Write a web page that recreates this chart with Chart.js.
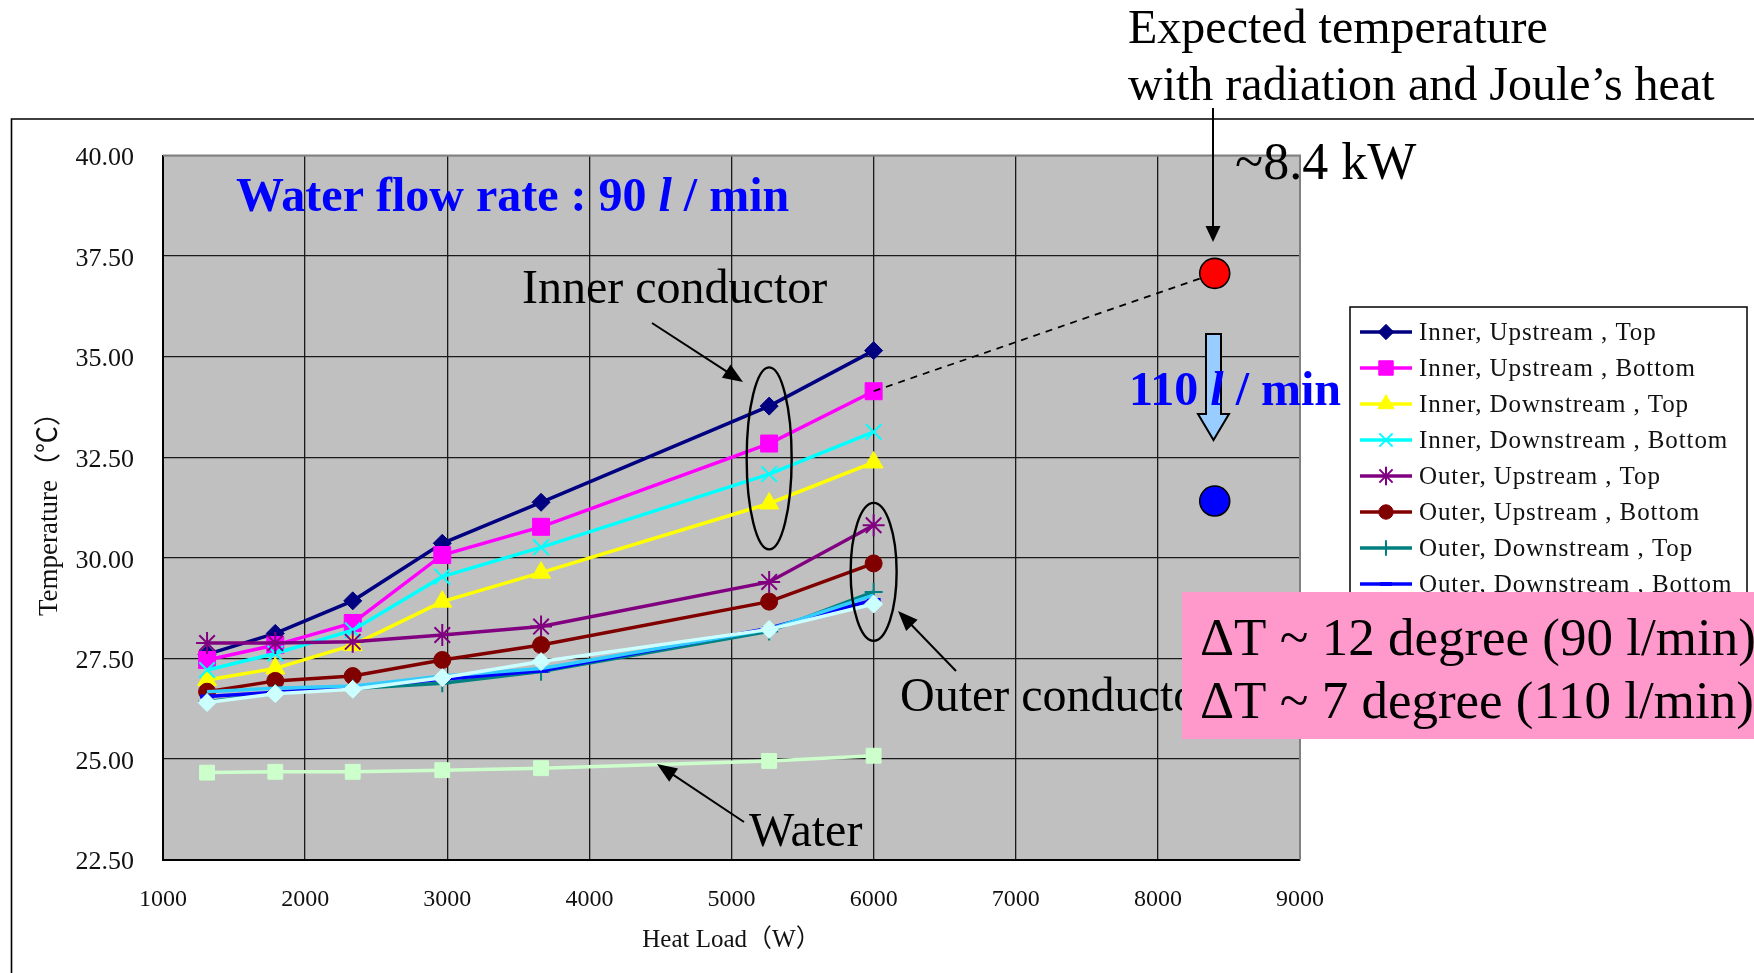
<!DOCTYPE html>
<html lang="en">
<head>
<meta charset="UTF-8">
<title>Temperature vs Heat Load</title>
<script src="https://cdn.jsdelivr.net/npm/chart.js@4.4.1/dist/chart.umd.min.js"></script>
<style>
  body { margin: 0; background: #fff; }
  canvas { display: block; }
</style>
</head>
<body>
<canvas id="myChart" width="1754" height="973"></canvas>
<script>
// heat load (W) for each measurement step
const heatLoad = [1310, 1790, 2335, 2965, 3660, 5265, 6000];

// measured temperatures (deg C) at 90 l/min
const innerUpTop      = [27.60, 28.12, 28.93, 30.36, 31.38, 33.77, 35.15];
const innerUpBottom   = [27.46, 27.83, 28.38, 30.07, 30.77, 32.84, 34.14];
const innerDownTop    = [26.96, 27.25, 27.83, 28.91, 29.63, 31.35, 32.37];
const innerDownBottom = [27.21, 27.62, 28.20, 29.53, 30.26, 32.08, 33.13];
const outerUpTop      = [27.88, 27.88, 27.91, 28.08, 28.29, 29.40, 30.81];
const outerUpBottom   = [26.67, 26.94, 27.06, 27.46, 27.83, 28.91, 29.86];
const outerDownTop    = [26.42, 26.63, 26.75, 26.88, 27.17, 28.17, 29.15];
const outerDownBottom = [26.55, 26.66, 26.78, 26.98, 27.19, 28.25, 28.95];
const outerDownSide   = [26.67, 26.76, 26.81, 27.06, 27.25, 28.22, 29.07];
const outerMiddle     = [26.40, 26.62, 26.73, 27.02, 27.42, 28.22, 28.85];
const waterTemp       = [24.66, 24.68, 24.68, 24.72, 24.77, 24.95, 25.08];

// extrapolated peak at ~8.4 kW for both flow rates
const expectedLoad = [8400];
const expected90   = [37.07];
const expected110  = [31.41];

const xTickValues = [1000, 2000, 3000, 4000, 5000, 6000, 7000, 8000, 9000];
const yTickValues = [22.5, 25, 27.5, 30, 32.5, 35, 37.5, 40];

const serif = '"Liberation Serif", "Times New Roman", "Noto Sans CJK JP", serif';

function pts(values, xs) {
  return values.map((v, i) => ({ x: (xs || heatLoad)[i], y: v }));
}

function series(label, values, color, style, radius, opts) {
  return Object.assign({
    label: label,
    data: pts(values),
    borderColor: color,
    backgroundColor: color,
    borderWidth: 3.5,
    pointStyle: style,
    pointRadius: radius,
    pointHoverRadius: radius,
    pointBackgroundColor: color,
    pointBorderColor: color,
    pointBorderWidth: 1,
    tension: 0,
    inLegend: true
  }, opts || {});
}

const datasets = [
  series('Inner, Upstream , Top', innerUpTop, '#000080', 'rectRot', 9),
  series('Inner, Upstream , Bottom', innerUpBottom, '#FF00FF', 'rect', 12),
  series('Inner, Downstream , Top', innerDownTop, '#FFFF00', 'triangle', 11),
  series('Inner, Downstream , Bottom', innerDownBottom, '#00FFFF', 'crossRot', 11, { pointBorderWidth: 2 }),
  series('Outer, Upstream , Top', outerUpTop, '#800080', 'star', 11, { pointBorderWidth: 2 }),
  series('Outer, Upstream , Bottom', outerUpBottom, '#800000', 'circle', 8.5),
  series('Outer, Downstream , Top', outerDownTop, '#008080', 'cross', 9, { pointBorderWidth: 2 }),
  series('Outer, Downstream , Bottom', outerDownBottom, '#0000FF', 'line', 7, { pointBorderWidth: 4 }),
  series('Outer, Downstream , Side', outerDownSide, '#33CCFF', 'circle', 0),
  series('Outer, Middle', outerMiddle, '#CCFFFF', 'rectRot', 9),
  series('Water', waterTemp, '#CCFFCC', 'rect', 10.5)
];
// later series sit on top of earlier ones
datasets.forEach((d, i) => { d.order = 20 - i; });

// dashed extrapolation from the last inner/bottom reading to the expected point
datasets.push({
  label: 'extrapolation',
  data: [{ x: heatLoad[6], y: innerUpBottom[6] }, { x: expectedLoad[0], y: expected90[0] }],
  borderColor: '#000', borderWidth: 1.8, borderDash: [7, 6],
  pointRadius: 0, tension: 0, order: 5
});
datasets.push({
  label: 'expected 90',
  data: pts(expected90, expectedLoad),
  showLine: false, pointRadius: 15, pointHoverRadius: 15,
  pointBackgroundColor: '#FF0000', pointBorderColor: '#000', pointBorderWidth: 1.6, order: 1
});
datasets.push({
  label: 'expected 110',
  data: pts(expected110, expectedLoad),
  showLine: false, pointRadius: 15, pointHoverRadius: 15,
  pointBackgroundColor: '#0000FF', pointBorderColor: '#000', pointBorderWidth: 1.6, order: 1
});

function arrow(ctx, x1, y1, x2, y2, len, half) {
  const a = Math.atan2(y2 - y1, x2 - x1);
  ctx.beginPath();
  ctx.moveTo(x1, y1);
  ctx.lineTo(x2 - Math.cos(a) * len * 0.8, y2 - Math.sin(a) * len * 0.8);
  ctx.stroke();
  ctx.beginPath();
  ctx.moveTo(x2, y2);
  ctx.lineTo(x2 - Math.cos(a) * len - Math.sin(a) * half, y2 - Math.sin(a) * len + Math.cos(a) * half);
  ctx.lineTo(x2 - Math.cos(a) * len + Math.sin(a) * half, y2 - Math.sin(a) * len - Math.cos(a) * half);
  ctx.closePath();
  ctx.fill();
}

// draws text in pieces, each with its own font prefix
function richText(ctx, parts, x, y, size) {
  parts.forEach(p => {
    ctx.font = p[0] + size + 'px ' + serif;
    ctx.fillText(p[1], x, y);
    x += ctx.measureText(p[1]).width;
  });
}

const plotBackground = {
  id: 'plotBackground',
  beforeDraw(chart) {
    const { ctx, chartArea: a } = chart;
    ctx.save();
    ctx.fillStyle = '#fff';
    ctx.fillRect(0, 0, chart.width, chart.height);
    ctx.fillStyle = '#C0C0C0';
    ctx.fillRect(a.left, a.top, a.right - a.left, a.bottom - a.top);
    ctx.restore();
  }
};

const legendBox = {
  id: 'legendBox',
  afterDraw(chart) {
    const { ctx } = chart;
    const items = chart.data.datasets.filter(d => d.inLegend);
    const left = 1350, top = 307, right = 1747, rowH = 36;
    ctx.save();
    ctx.fillStyle = '#fff';
    ctx.fillRect(left, top, right - left, items.length * rowH + 14);
    ctx.strokeStyle = '#000';
    ctx.lineWidth = 1.5;
    ctx.strokeRect(left, top, right - left, items.length * rowH + 14);
    ctx.font = '25px ' + serif;
    ctx.letterSpacing = '0.9px';
    ctx.textBaseline = 'middle';
    items.forEach((d, i) => {
      const yy = top + 25 + i * rowH;
      ctx.strokeStyle = d.borderColor;
      ctx.lineWidth = 3.5;
      ctx.beginPath();
      ctx.moveTo(1360, yy);
      ctx.lineTo(1412, yy);
      ctx.stroke();
      if (d.pointRadius > 0) {
        ctx.fillStyle = d.pointBackgroundColor;
        ctx.strokeStyle = d.pointBorderColor;
        ctx.lineWidth = d.pointBorderWidth;
        Chart.helpers.drawPoint(ctx, {
          pointStyle: d.pointStyle, rotation: 0,
          radius: d.pointRadius * 0.85, borderWidth: d.pointBorderWidth
        }, 1386, yy);
      }
      ctx.fillStyle = '#111';
      ctx.fillText(d.label, 1419, yy + 1);
    });
    ctx.restore();
  }
};

const notes = {
  id: 'notes',
  afterDraw(chart) {
    const { ctx, chartArea: a } = chart;
    const xs = chart.scales.x, ys = chart.scales.y;
    ctx.save();

    // gray top / right edge of the plot
    ctx.strokeStyle = '#808080';
    ctx.lineWidth = 2;
    ctx.beginPath();
    ctx.moveTo(a.left, a.top);
    ctx.lineTo(a.right, a.top);
    ctx.lineTo(a.right, a.bottom);
    ctx.stroke();

    // outer frame
    ctx.strokeStyle = '#000';
    ctx.lineWidth = 1.6;
    ctx.beginPath();
    ctx.moveTo(1754, 119);
    ctx.lineTo(11.5, 119);
    ctx.lineTo(11.5, 973);
    ctx.stroke();

    // flow rate heading
    ctx.fillStyle = '#0000FF';
    ctx.textBaseline = 'alphabetic';
    richText(ctx, [['bold ', 'Water flow rate : 90 '], ['italic bold ', 'l'], ['bold ', ' / min']], 236, 211, 48);

    // ellipses around the last readings
    ctx.strokeStyle = '#000';
    ctx.lineWidth = 2.4;
    ctx.beginPath();
    ctx.ellipse(xs.getPixelForValue(heatLoad[5]), ys.getPixelForValue(32.47), 22.5, 91, 0, 0, Math.PI * 2);
    ctx.stroke();
    ctx.beginPath();
    ctx.ellipse(xs.getPixelForValue(heatLoad[6]), ys.getPixelForValue(29.65), 23, 69, 0, 0, Math.PI * 2);
    ctx.stroke();

    // labels and pointers
    ctx.fillStyle = '#000';
    ctx.lineWidth = 2;
    ctx.font = '48px ' + serif;
    ctx.fillText('Inner conductor', 522, 303);
    ctx.fillText('Outer conductor', 900, 711);
    ctx.fillText('Water', 749, 846);
    arrow(ctx, 652, 323, 743, 382, 20, 8);
    arrow(ctx, 956, 671, 898, 611, 20, 8);
    arrow(ctx, 744, 822, 657, 764, 20, 8);

    ctx.fillText('Expected temperature', 1128, 43);
    ctx.fillText('with radiation and Joule\u2019s heat', 1128, 100);
    arrow(ctx, 1213, 108, 1213, 242, 16, 7.5);
    ctx.font = '52px ' + serif;
    ctx.fillText('~8.4 kW', 1235, 179);

    // block arrow for the higher flow rate, label drawn over it
    ctx.fillStyle = '#99CCFF';
    ctx.strokeStyle = '#000';
    ctx.lineWidth = 2;
    ctx.beginPath();
    ctx.moveTo(1206, 334);
    ctx.lineTo(1221, 334);
    ctx.lineTo(1221, 414);
    ctx.lineTo(1229, 414);
    ctx.lineTo(1213.5, 440);
    ctx.lineTo(1198, 414);
    ctx.lineTo(1206, 414);
    ctx.closePath();
    ctx.fill();
    ctx.stroke();
    ctx.fillStyle = '#0000FF';
    richText(ctx, [['bold ', '110 '], ['italic bold ', 'l'], ['bold ', ' / min']], 1129, 405, 48);

    // delta-T summary box
    ctx.fillStyle = '#FF99CC';
    ctx.fillRect(1182, 592, 600, 147);
    ctx.fillStyle = '#000';
    ctx.font = '53px ' + serif;
    ctx.fillText('\u0394T ~ 12 degree (90 l/min)', 1200, 655);
    ctx.fillText('\u0394T ~ 7 degree (110 l/min)', 1200, 718);

    ctx.restore();
  }
};

const ctx = document.getElementById('myChart').getContext('2d');
const myChart = new Chart(ctx, {
  type: 'line',
  data: { datasets: datasets },
  options: {
    responsive: false,
    devicePixelRatio: 1,
    animation: false,
    layout: { padding: { left: 0, top: 155.5, right: 454, bottom: 0 } },
    plugins: {
      legend: { display: false },
      tooltip: { enabled: false }
    },
    scales: {
      x: {
        type: 'linear',
        min: 1000, max: 9000,
        afterFit: s => { s.height = 113.5; },
        afterBuildTicks: s => { s.ticks = xTickValues.map(v => ({ value: v })); },
        ticks: { color: '#111', font: { family: serif, size: 24 }, padding: 26, callback: v => String(v) },
        grid: {
          drawTicks: false,
          lineWidth: 1.3,
          color: c => (c.tick && c.tick.value === 9000 ? '#808080' : '#1a1a1a')
        },
        border: { display: true, color: '#000', width: 2 },
        title: {
          display: true, text: 'Heat Load\uFF08W\uFF09', color: '#111',
          font: { family: serif, size: 25 }, padding: { top: 0, bottom: 18 }
        }
      },
      y: {
        min: 22.5, max: 40,
        afterFit: s => { s.width = 163; },
        afterBuildTicks: s => { s.ticks = yTickValues.map(v => ({ value: v })); },
        ticks: { color: '#111', font: { family: serif, size: 26 }, padding: 29, labelOffset: 3, callback: v => v.toFixed(2) },
        grid: {
          drawTicks: false,
          lineWidth: 1.3,
          color: c => (c.tick && c.tick.value === 40 ? '#808080' : '#1a1a1a')
        },
        border: { display: true, color: '#000', width: 2 },
        title: {
          display: true, text: 'Temperature\uFF08\u2103\uFF09', color: '#111',
          font: { family: serif, size: 27 }, padding: { top: 34, bottom: 0 }
        }
      }
    }
  },
  plugins: [plotBackground, legendBox, notes]
});
</script>
</body>
</html>
